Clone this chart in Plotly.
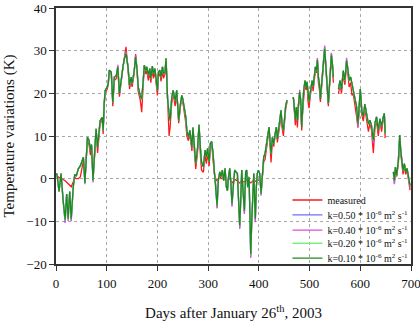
import plotly.graph_objects as go

# ---- data (None = gap in record) ----
days = [0, 2, 6, 10, 14, 18, 21, 24, 27, 30, 34, 37, 40, 44, 48, 51, 54, 57, 60, 62,
        65, 68, 70, 73, 76, 79, 82, 85, 87, 91, 93, 95, 97, 101, 103, 105, 109, 112, 115, 119,
        122, 125, 128, 132, 135, 138, 142, 145, 148, 150, 154, 157, 160, 162, 166, 169, 172, 174, 177, 179,
        182, 185, 187, 190, 192, 195, 198, 200, 202, 205, 207, 210, 212, 215, 217, 219, 220, 223, 225, 228,
        231, 235, 238, 240, 242, 245, 248, 250, 253, 256, 258, 261, 264, 268, 270, 273, 275.5, 279, 282, 285,
        287, 290.6, 294, 296.5, 299, 302, 304.4, 307, 309.7, 312.3, 315, 317.6, 320, 323, 325.5, 328, 330.7, 333.4, 336, 338,
        340, 342.6, 345, 347, 350, 352.4, 355, 357.7, 360.3, 362.3, 364.2, 366.2, 368.8, 371.5, 374, 376, 378, 380.7, 382.6, 384,
        386, 388, 390, 391.8, 393, 395, 397, 399, 401.7, 404.3, 407, 409.6, 412.2, 414.8, 417.5, 420.1, 422, 424, 426.7, 429.3,
        432, 434.6, 436.5, 439, 441.8, 443.7, 445.7, 448.4, 450.3, 453, 455.6, 461,
        468, 470, 472, 474, 476, 478, 480.5, 482.5, 484.5, 486.5, 488.4, 491, 493, 495, 497, 499, 501, 503, 505, 507,
        509.5, 511.5, 513.5, 515.4, 517.4, 519.4, 521.3, 523.3, 525.3, 527.2, 529.8, 531.8, 533.8, 535.7, 537, 539, 541, 543, 545, 547,
        552,
        557, 560, 563, 566.4, 569.7, 573, 576, 578, 581, 583.6, 586, 589.5, 592.8, 595.4, 598, 600, 603, 606, 609, 612.5,
        616, 619, 622, 625.7, 629, 632, 635.5, 638.8, 642, 645.4, 647.4, 649, 657,
        665.3, 667.3, 669.2, 671.8, 675.1, 677.8, 679.7, 681.7, 684.3, 687, 689.6, 692.2, 694.8, 698.1]

measured = [1.2, 0.6, 0.3, 0.1, -0.2, -0.5, -0.9, -1.3, -1.6, -1.9, -0.8, 0.2, 0.0, 0.0, 0.4, 2.5, 4.2, 0.5, 4.5, 9.0,
            8.0, 5.5, 7.5, 1.0, 5.0, 11.0, 6.0, 10.0, 13.0, 13.8, 10.5, 17.0, 20.0, 21.0, 22.0, 25.0, 24.5, 17.0, 23.0, 23.5,
            25.8, 19.2, 22.5, 26.0, 28.5, 30.9, 25.5, 21.0, 23.0, 21.5, 24.5, 29.2, 25.0, 20.5, 18.5, 15.6, 22.0, 26.0, 24.5, 25.5,
            23.0, 25.0, 22.5, 26.0, 23.5, 25.0, 21.8, 19.5, 24.0, 24.8, 22.8, 25.5, 23.5, 24.5, 27.8, 22.0, 17.5, 10.0, 12.0, 17.5,
            20.0, 17.0, 20.0, 16.0, 13.0, 16.5, 19.0, 18.0, 15.5, 13.0, 10.0, 8.9, 10.5, 6.5, 11.0, 6.5, 2.3, 6.0, 12.0, 5.0,
            2.0, 1.5, 5.5, 3.5, 6.0, 3.0, 7.5, 8.0, 5.0, 1.0, 0.0, -0.5, 0.0, 0.5, 0.0, 0.2, -0.3, 0.0, -0.5, -0.8,
            0.0, 0.0, -0.5, -1.0, -0.6, -0.2, -0.3, -0.5, -0.8, -1.0, -0.8, -0.3, -0.6, -0.8, -0.5, -0.2, -0.4, -0.5, -0.8, -1.0,
            -0.8, -0.6, -0.4, -0.5, -0.6, -0.5, -0.4, -0.3, -0.5, -0.6, 0.5, 4.0, 4.5, 7.0, 9.0, 11.5, 8.0, 3.8, 9.0, 7.5,
            10.0, 11.5, 8.5, 10.5, 13.0, 15.5, 12.0, 10.0, 13.0, 16.5, 18.0, None,
            19.1, 15.0, 12.5, 16.0, 12.0, 16.5, 19.5, 17.5, 11.3, 16.0, 20.0, 22.5, 20.8, 22.0, 18.0, 16.5, 19.0, 21.0, 22.5, 20.5,
            24.0, 25.5, 24.8, 27.5, 22.5, 21.0, 18.0, 21.0, 24.0, 27.5, 30.0, 26.5, 22.0, 18.5, 17.0, 21.0, 25.5, 28.0, 26.0, 22.5,
            None,
            19.9, 22.0, 20.0, 24.5, 22.0, 27.0, 24.0, 21.5, 22.5, 19.5, 20.0, 17.5, 14.5, 12.0, 16.5, 20.0, 15.0, 13.5, 16.5, 14.0,
            11.0, 13.0, 11.5, 6.0, 12.0, 13.5, 10.0, 13.5, 11.0, 14.0, 15.0, 9.5, None,
            1.0, -0.5, 2.0, 0.5, 3.5, 9.5, 6.0, 3.5, 1.0, 3.0, 1.0, 2.0, -0.5, -2.7]

k_010 = [1.2, 1.0, -3.0, 1.2, -5.0, -9.6, -3.6, -9.4, -3.0, -9.4, -2.0, 1.0, 0.6, 2.3, 3.0, 4.2, 5.0, -1.0, 5.0, 9.7,
         9.0, 6.6, 8.0, -0.5, 5.8, 11.7, 7.4, 10.5, 13.6, 14.4, 11.3, 17.6, 20.7, 21.5, 22.3, 25.4, 25.0, 17.8, 23.8, 24.2,
         26.2, 19.9, 23.0, 26.2, 28.2, 29.3, 26.2, 21.9, 23.8, 22.3, 25.0, 28.5, 25.4, 21.5, 19.5, 18.7, 23.0, 26.6, 25.4, 26.2,
         24.2, 25.8, 23.5, 26.4, 24.6, 25.8, 22.7, 20.7, 25.0, 25.4, 23.8, 26.2, 24.6, 25.0, 28.2, 23.0, 18.7, 15.2, 13.6, 18.7,
         20.7, 18.3, 20.7, 17.2, 13.6, 17.2, 19.5, 18.7, 16.8, 14.4, 11.3, 9.7, 11.3, 7.4, 12.0, 7.4, 3.5, 7.0, 12.6, 6.7,
         3.9, 2.8, 6.7, 5.1, 7.1, 3.9, 8.3, 8.7, 5.9, 1.6, -1.6, -6.3, -0.4, 1.6, 0.4, 2.0, -0.4, 2.4, -2.0, -2.8,
         0.4, 2.4, -1.2, -5.9, -1.2, 2.0, 1.6, 1.2, -5.9, -11.0, -5.1, 2.0, -2.8, -7.5, 1.6, 2.0, -2.0, 0.4, -9.8, -17.7,
         -9.8, -1.2, 1.2, -5.1, -9.4, -2.0, 1.2, 2.0, 1.2, -3.5, 1.2, 5.1, 5.9, 8.2, 9.7, 12.1, 8.9, 5.8, 9.7, 8.2,
         10.5, 12.1, 9.3, 11.3, 13.6, 16.0, 12.9, 11.3, 13.6, 17.2, 18.4, None,
         19.1, 16.0, 14.0, 16.8, 13.6, 17.2, 20.3, 18.4, 12.1, 16.8, 20.7, 23.0, 21.5, 22.7, 19.1, 18.0, 19.9, 21.9, 23.0, 21.5,
         24.6, 26.2, 25.4, 27.8, 23.8, 22.3, 18.7, 21.5, 24.6, 27.8, 30.5, 27.0, 23.0, 19.1, 17.6, 21.5, 26.2, 28.9, 27.0, 23.8,
         None,
         21.0, 23.0, 21.0, 25.3, 23.0, 27.7, 25.3, 23.0, 23.8, 22.2, 21.5, 19.1, 16.8, 12.8, 17.6, 21.0, 16.0, 14.5, 17.5, 15.0,
         12.8, 13.7, 12.5, 9.0, 13.0, 14.5, 11.4, 14.0, 12.2, 14.5, 15.3, 10.6, None,
         1.6, -0.4, 2.7, 0.8, 4.3, 10.2, 6.7, 4.3, 1.9, 3.5, 1.6, 2.4, 0.4, -1.6]

# the other diffusivities overlap k=0.10 within a line width; read differences at the tips
k_020 = list(k_010)
tips_k020 = {18: -9.8, 384: -17.9, 529.8: 30.6}
tips_k040 = {18: -10.4, 24: -9.9, 30: -10.0, 57: -1.3, 73: -0.9, 122: 26.7, 138: 29.8, 157: 28.9,
             317.6: -7.0, 347: -6.6, 362.3: -11.8, 371.5: -8.3, 384: -18.6, 393: -10.2, 404.3: -4.0,
             480.5: 20.8, 515.4: 28.3, 529.8: 31.2, 543: 29.5, 573: 28.3, 595.4: 12.0, 625.7: 8.4,
             667.3: -1.3, 698.1: -2.0}
tips_k050 = {18: -10.2, 30: -9.8, 138: 29.6, 317.6: -6.8, 347: -6.3, 362.3: -11.5, 371.5: -8.0,
             384: -18.3, 393: -9.8, 529.8: 30.9, 543: 29.3, 595.4: 12.3, 667.3: -1.1}

k_040 = list(k_010)
k_050 = list(k_010)
for d, v in tips_k020.items():
    k_020[days.index(d)] = v
for d, v in tips_k040.items():
    k_040[days.index(d)] = v
for d, v in tips_k050.items():
    k_050[days.index(d)] = v

x_ticks = [0, 100, 200, 300, 400, 500, 600, 700]
y_ticks = [-20, -10, 0, 10, 20, 30, 40]

series_names = ["measured",
                "k=0.50 * 10<sup>-6</sup> m<sup>2</sup> s<sup>-1</sup>",
                "k=0.40 * 10<sup>-6</sup> m<sup>2</sup> s<sup>-1</sup>",
                "k=0.20 * 10<sup>-6</sup> m<sup>2</sup> s<sup>-1</sup>",
                "k=0.10 * 10<sup>-6</sup> m<sup>2</sup> s<sup>-1</sup>"]
series_values = [measured, k_050, k_040, k_020, k_010]
series_colors = ["#ff1a1a", "#6f6fff", "#d94fe0", "#7cf07c", "#1f8a1f"]

FONT = "Liberation Serif, Times New Roman, serif"

# one small legend per entry so rows can sit as tightly as in the reference
legend_ids = ["legend", "legend2", "legend3", "legend4", "legend5"]
legend_rows_y = [0.250, 0.192, 0.132, 0.081, 0.023]

fig = go.Figure()
for name, vals, col, lid in zip(series_names, series_values, series_colors, legend_ids):
    fig.add_trace(go.Scatter(x=days, y=vals, mode="lines", name=name, legend=lid,
                             line=dict(color=col, width=1.3), connectgaps=False))

axis_common = dict(
    showgrid=True, gridcolor="#a8a8a8", griddash="dot", gridwidth=1,
    zeroline=False, showline=True, linecolor="#333333", linewidth=1.5, mirror=True,
    ticks="outside", ticklen=5, tickcolor="#333333", automargin=False,
    ticklabeloverflow="allow",
    tickfont=dict(family=FONT, size=13, color="#111111"),
)

legend_layout = {}
for lid, ly in zip(legend_ids, legend_rows_y):
    legend_layout[lid] = dict(x=0.652, y=ly, xanchor="left", yanchor="middle",
                              bgcolor="rgba(0,0,0,0)", borderwidth=0,
                              font=dict(family=FONT, size=10, color="#111111"),
                              itemwidth=30)

fig.update_layout(
    width=420, height=321,
    margin=dict(l=56, r=9, t=8, b=57, autoexpand=False),
    paper_bgcolor="white", plot_bgcolor="white",
    font=dict(family=FONT, color="#111111"),
    showlegend=True,
    xaxis=dict(range=[0, 700], tickvals=x_ticks, ticklabelstandoff=2, **axis_common,
               title=dict(text="Days after January 26<sup>th</sup>, 2003",
                          font=dict(family=FONT, size=15), standoff=21)),
    yaxis=dict(range=[-20, 40], tickvals=y_ticks, **axis_common,
               title=dict(text="Temperature variations (K)",
                          font=dict(family=FONT, size=15), standoff=8)),
    **legend_layout,
)

fig.write_html("out.html")
